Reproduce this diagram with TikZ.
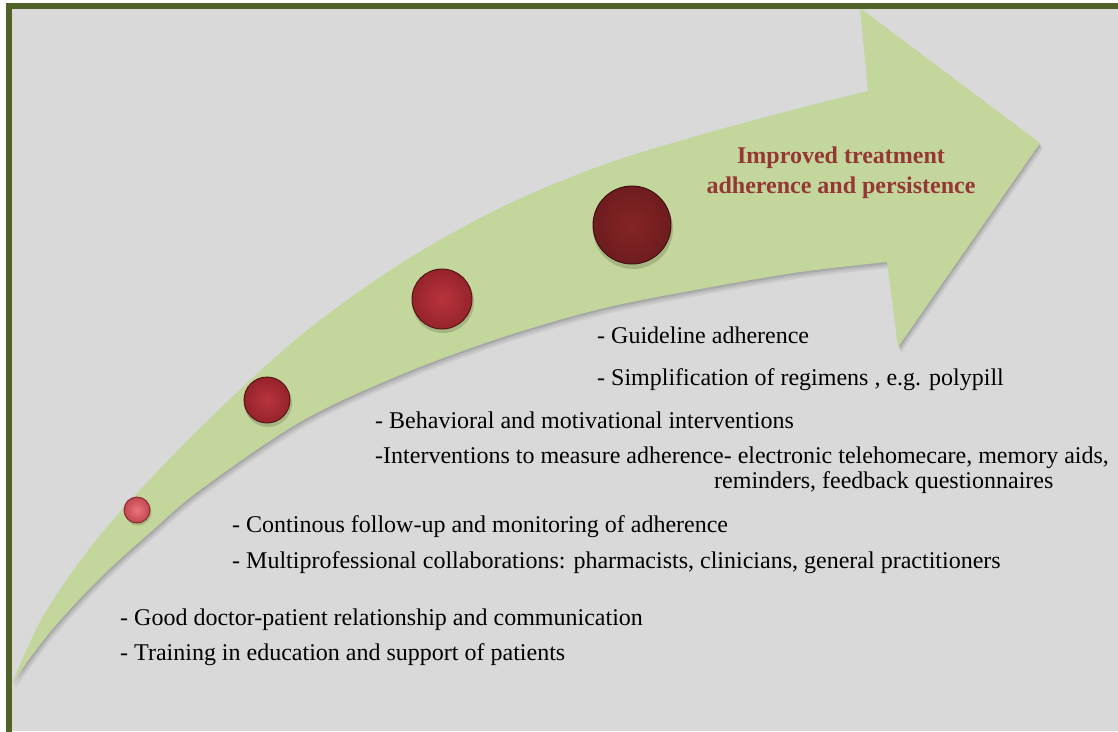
\documentclass[tikz,border=0pt]{standalone}
\usepackage{fontspec}
\setmainfont{Liberation Serif}
\definecolor{bg}{HTML}{D9D9D9}
\definecolor{framegreen}{HTML}{4F6228}
\definecolor{arrowgreen}{HTML}{C3D69B}
\definecolor{titlered}{HTML}{953735}
\newcommand{\arrowpath}{plot[smooth, tension=0.55] coordinates {(12,683) (40,622) (75,568) (120,512) (200,428) (300,336) (400,264) (500,208) (600,166) (700,135) (800,108) (868,91)} -- (860,8) -- (1040,143) -- (898,347) -- (887,262) -- plot[smooth, tension=0.55] coordinates {(887,262) (800,272) (700,289) (600,309) (500,338) (400,375) (300,422) (200,490) (153,530) (100,578) (50,632) (12,683)} -- cycle}
\begin{document}
\begin{tikzpicture}[x=1pt,y=-1pt,
  body/.style={anchor=base west, inner sep=0pt, font=\fontsize{24}{26}\selectfont},
  titletext/.style={anchor=base, inner sep=0pt, font=\fontsize{24}{26}\selectfont\bfseries, text=titlered},
  ballnode/.style={circle, inner sep=0pt, line width=0.9pt}]
\useasboundingbox (0,0) rectangle (1118,731);
\fill[white] (0,0) rectangle (1118,731);
\fill[bg] (9,6) rectangle (1118,731);
% arrow shadow
\fill[black, opacity=0.06, shift={(3,6)}] \arrowpath;
\fill[black, opacity=0.08, shift={(2,4)}] \arrowpath;
\fill[black, opacity=0.10, shift={(1,2)}] \arrowpath;
\fill[arrowgreen] \arrowpath;
% frame
\draw[framegreen, line width=6pt] (9,745) -- (9,6) -- (1130,6);
% ball shadows
\fill[black, opacity=0.15] (138,512) circle (13.5);
\fill[black, opacity=0.15] (268,403) circle (24);
\fill[black, opacity=0.15] (443,302) circle (31);
\fill[black, opacity=0.15] (633,229) circle (40);
% balls
\node[ballnode, minimum size=26pt, inner color={rgb,255:red,232;green,118;blue,122}, outer color={rgb,255:red,196;green,70;blue,78}, draw={rgb,255:red,130;green,40;blue,45}] (s1) at (137,510) {};
\node[ballnode, minimum size=46pt, inner color={rgb,255:red,185;green,52;blue,60}, outer color={rgb,255:red,150;green,35;blue,42}, draw={rgb,255:red,80;green,18;blue,22}] (s2) at (267,400) {};
\node[ballnode, minimum size=60pt, inner color={rgb,255:red,185;green,52;blue,60}, outer color={rgb,255:red,150;green,35;blue,42}, draw={rgb,255:red,80;green,18;blue,22}] (s3) at (442,299) {};
\node[ballnode, minimum size=78pt, inner color={rgb,255:red,133;green,37;blue,37}, outer color={rgb,255:red,110;green,28;blue,30}, draw={rgb,255:red,60;green,12;blue,14}] (s4) at (632,225) {};
% title
\node[titletext] (t1) at (841,163) {Improved treatment};
\node[titletext] (t2) at (841,193) {adherence and persistence};
% text
\node[body] (g1) at (597,343) {- Guideline adherence};
\node[body] (g2) at (597,385) {- Simplification of regimens , e.g. polypill};
\node[body] (b1) at (375,428) {- Behavioral and motivational interventions};
\node[body] (b2) at (375,463) {-Interventions to measure adherence- electronic telehomecare, memory aids,};
\node[body] (b3) at (714,488) {reminders, feedback questionnaires};
\node[body] (c1) at (232,532) {- Continous follow-up and monitoring of adherence};
\node[body] (c2) at (232,568) {- Multiprofessional collaborations: pharmacists, clinicians, general practitioners};
\node[body] (d1) at (120,625) {- Good doctor-patient relationship and communication};
\node[body] (d2) at (120,660) {- Training in education and support of patients};
\end{tikzpicture}
\end{document}
